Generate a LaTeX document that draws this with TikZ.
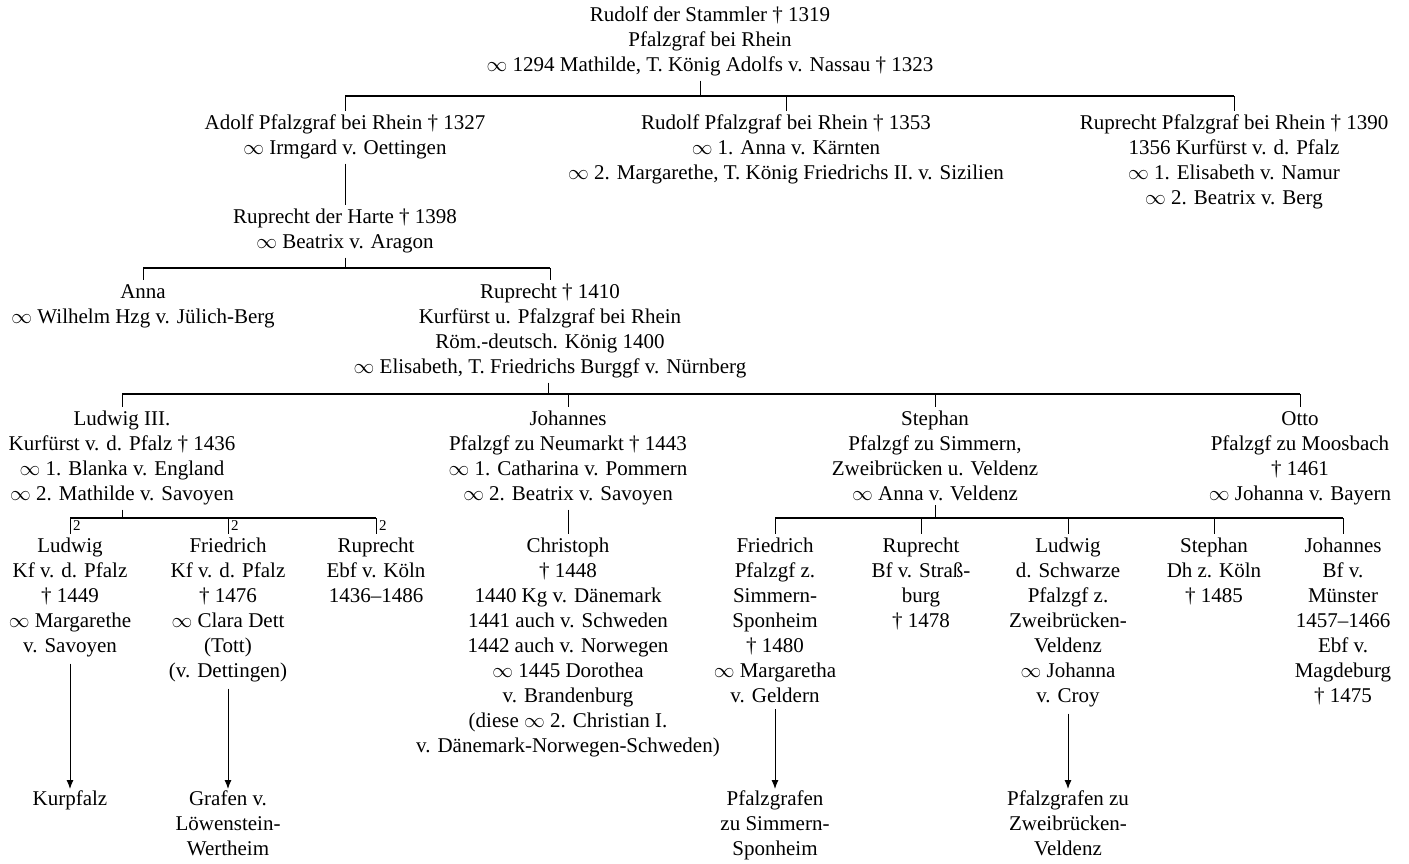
\documentclass[tikz,border=0pt]{standalone}
\usepackage{fontspec}
\setmainfont{Liberation Serif}
\usetikzlibrary{arrows.meta, positioning}

\newcommand{\namefont}{\fontsize{21}{25}\selectfont}
\newcommand{\oo}{$\infty$}

\begin{document}
\begin{tikzpicture}[
    x=1pt, y=-1pt,
    every node/.style={font=\namefont},
    person/.style={align=center, inner sep=0pt, anchor=north},
    bar/.style={draw, line width=1.4pt},
    link/.style={draw, line width=0.9pt},
    descent/.style={draw, line width=1pt, -{Latex[length=9pt, width=7pt]}},
    marriage/.style={font=\fontsize{15}{15}\selectfont, inner sep=0pt, anchor=north west}
  ]
  \useasboundingbox (0,0) rectangle (1409,863);

  \node[person] (rudolfst) at (710,7) {Rudolf der Stammler † 1319\\Pfalzgraf bei Rhein\\\oo\ 1294 Mathilde, T. König Adolfs v. Nassau † 1323};

  \node[person] (adolf) at (345,115) {Adolf Pfalzgraf bei Rhein † 1327\\\oo\ Irmgard v. Oettingen};
  \node[person] (rudolfpf) at (786,115) {Rudolf Pfalzgraf bei Rhein † 1353\\\oo\ 1. Anna v. Kärnten\\\oo\ 2. Margarethe, T. König Friedrichs II. v. Sizilien};
  \node[person] (ruprechtpf) at (1234,115) {Ruprecht Pfalzgraf bei Rhein † 1390\\1356 Kurfürst v. d. Pfalz\\\oo\ 1. Elisabeth v. Namur\\\oo\ 2. Beatrix v. Berg};

  \node[person] (harte) at (345,209) {Ruprecht der Harte † 1398\\\oo\ Beatrix v. Aragon};

  \node[person] (anna) at (143,284) {Anna\\\oo\ Wilhelm Hzg v. Jülich-Berg};
  \node[person] (ruprechtkg) at (550,284) {Ruprecht † 1410\\Kurfürst u. Pfalzgraf bei Rhein\\Röm.-deutsch. König 1400\\\oo\ Elisabeth, T. Friedrichs Burggf v. Nürnberg};

  \node[person] (ludwig) at (122,411) {Ludwig III.\\Kurfürst v. d. Pfalz † 1436\\\oo\ 1. Blanka v. England\\\oo\ 2. Mathilde v. Savoyen};
  \node[person] (johannes) at (568,411) {Johannes\\Pfalzgf zu Neumarkt † 1443\\\oo\ 1. Catharina v. Pommern\\\oo\ 2. Beatrix v. Savoyen};
  \node[person] (stephan) at (935,411) {Stephan\\Pfalzgf zu Simmern,\\Zweibrücken u. Veldenz\\\oo\ Anna v. Veldenz};
  \node[person] (otto) at (1300,411) {Otto\\Pfalzgf zu Moosbach\\† 1461\\\oo\ Johanna v. Bayern};

  \node[person] (ludwigkf) at (70,538) {Ludwig\\Kf v. d. Pfalz\\† 1449\\\oo\ Margarethe\\v. Savoyen};
  \node[person] (friedrichkf) at (228,538) {Friedrich\\Kf v. d. Pfalz\\† 1476\\\oo\ Clara Dett\\(Tott)\\(v. Dettingen)};
  \node[person] (ruprechtebf) at (376,538) {Ruprecht\\Ebf v. Köln\\1436--1486};
  \node[person] (christoph) at (568,538) {Christoph\\† 1448\\1440 Kg v. Dänemark\\1441 auch v. Schweden\\1442 auch v. Norwegen\\\oo\ 1445 Dorothea\\v. Brandenburg\\(diese \oo\ 2. Christian I.\\v. Dänemark-Norwegen-Schweden)};
  \node[person] (friedrichsim) at (775,538) {Friedrich\\Pfalzgf z.\\Simmern-\\Sponheim\\† 1480\\\oo\ Margaretha\\v. Geldern};
  \node[person] (ruprechtbf) at (921,538) {Ruprecht\\Bf v. Straß-\\burg\\† 1478};
  \node[person] (ludwigzw) at (1068,538) {Ludwig\\d. Schwarze\\Pfalzgf z.\\Zweibrücken-\\Veldenz\\\oo\ Johanna\\v. Croy};
  \node[person] (stephandh) at (1214,538) {Stephan\\Dh z. Köln\\† 1485};
  \node[person] (johannesbf) at (1343,538) {Johannes\\Bf v.\\Münster\\1457--1466\\Ebf v.\\Magdeburg\\† 1475};

  \node[person] (kurpfalz) at (70,791) {Kurpfalz};
  \node[person] (loewenstein) at (228,791) {Grafen v.\\Löwenstein-\\Wertheim};
  \node[person] (simmern) at (775,791) {Pfalzgrafen\\zu Simmern-\\Sponheim};
  \node[person] (zweibruecken) at (1068,791) {Pfalzgrafen zu\\Zweibrücken-\\Veldenz};

  \coordinate (j0) at (700,96);
  \coordinate (j1) at (345,268);
  \coordinate (j2) at (548,394);
  \coordinate (j3) at (122,518);
  \coordinate (j4) at (935,518);

  \draw[link] ([yshift=-4pt]rudolfst.south -| j0) -- (j0);
  \draw[bar] (adolf.north |- j0) -- (ruprechtpf.north |- j0);
  \foreach \child in {adolf, rudolfpf, ruprechtpf}
    \draw[link] (\child.north |- j0) -- ([yshift=4pt]\child.north);

  \draw[link] ([yshift=-4pt]adolf.south) -- ([yshift=4pt]harte.north);

  \draw[link] ([yshift=-4pt]harte.south) -- (harte.south |- j1);
  \draw[bar] (anna.north |- j1) -- (ruprechtkg.north |- j1);
  \foreach \child in {anna, ruprechtkg}
    \draw[link] (\child.north |- j1) -- ([yshift=4pt]\child.north);

  \draw[link] ([yshift=-4pt]ruprechtkg.south -| j2) -- (j2);
  \draw[bar] (ludwig.north |- j2) -- (otto.north |- j2);
  \foreach \child in {ludwig, johannes, stephan, otto}
    \draw[link] (\child.north |- j2) -- ([yshift=4pt]\child.north);

  \draw[link] ([yshift=-4pt]ludwig.south) -- (j3);
  \draw[bar] (ludwigkf.north |- j3) -- (ruprechtebf.north |- j3);
  \foreach \child/\m in {ludwigkf/ma, friedrichkf/mb, ruprechtebf/mc} {
    \draw[link] (\child.north |- j3) -- ([yshift=4pt]\child.north);
    \node[marriage] (\m) at ([xshift=3pt,yshift=-2pt]\child.north |- j3) {2};
  }

  \draw[link] ([yshift=-4pt]johannes.south) -- ([yshift=4pt]christoph.north);

  \draw[link] ([yshift=-4pt]stephan.south -| j4) -- (j4);
  \draw[bar] (friedrichsim.north |- j4) -- (johannesbf.north |- j4);
  \foreach \child in {friedrichsim, ruprechtbf, ludwigzw, stephandh, johannesbf}
    \draw[link] (\child.north |- j4) -- ([yshift=4pt]\child.north);

  \draw[descent] ([yshift=-6pt]ludwigkf.south) -- ([yshift=2pt]kurpfalz.north);
  \draw[descent] ([yshift=-6pt]friedrichkf.south) -- ([yshift=2pt]loewenstein.north);
  \draw[descent] ([yshift=-6pt]friedrichsim.south) -- ([yshift=2pt]simmern.north);
  \draw[descent] ([yshift=-6pt]ludwigzw.south) -- ([yshift=2pt]zweibruecken.north);

\end{tikzpicture}
\end{document}
